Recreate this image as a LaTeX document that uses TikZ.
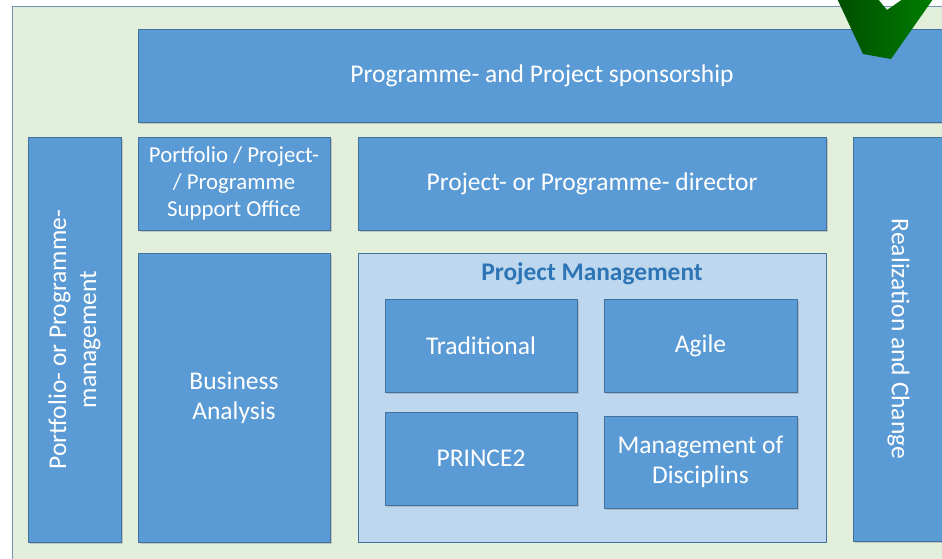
\documentclass[tikz,border=0pt]{standalone}
\usepackage{fontspec}
\setmainfont{Carlito}
\usetikzlibrary{shadows}

\definecolor{boxblue}{HTML}{5B9BD5}
\definecolor{boxline}{HTML}{41719C}
\definecolor{pmfill}{HTML}{BDD7EE}
\definecolor{bggreen}{HTML}{E2EFDA}
\definecolor{bgline}{HTML}{7391B5}
\definecolor{titleblue}{HTML}{2E75B6}

\begin{document}
\begin{tikzpicture}[x=1pt, y=-1pt,
	box/.style={draw=boxline, line width=1pt, fill=boxblue, text=white, align=center,
		font=\fontsize{25.5}{30}\selectfont, inner sep=0pt,
		drop shadow={shadow xshift=2pt, shadow yshift=-2pt, opacity=0.35}},
	pmframe/.style={draw=boxline, line width=1pt, fill=pmfill, inner sep=0pt}]

	\useasboundingbox (0, 0) rectangle (942, 558);
	\clip (0, 0) rectangle (942, 558);

	\fill[white] (0, 0) rectangle (942, 558);
	\filldraw[fill=bggreen, draw=bgline, line width=1pt] (12, 6) rectangle (960, 580);

	% top row
	\node[box, minimum width=808pt, minimum height=93pt] (sponsor) at (542, 75.5) {Programme- and Project sponsorship};

	% outer columns
	\node[box, minimum width=405pt, minimum height=93pt, rotate=90] (portfolio) at (74.5, 339.5) {Portfolio- or Programme-\\management};
	\node[box, minimum width=404pt, minimum height=91pt, rotate=-90] (realization) at (898.5, 339) {Realization and Change};

	% second row
	\node[box, minimum width=192pt, minimum height=93pt, font=\fontsize{22.8}{27}\selectfont] (office) at (234, 183.5) {Portfolio / Project-\\/ Programme\\Support Office};
	\node[box, minimum width=468pt, minimum height=93pt] (director) at (592, 183.5) {Project- or Programme- director};

	% lower part
	\node[box, minimum width=192pt, minimum height=289pt] (analysis) at (234, 397.5) {Business\\Analysis};
	\node[pmframe, minimum width=468pt, minimum height=289pt] (pm) at (592, 397.5) {};
	\node[text=titleblue, font=\fontsize{25.4}{30}\selectfont\bfseries] (pmtitle) at (592, 274) {Project Management};

	\node[box, minimum width=192pt, minimum height=93pt] (traditional) at (481, 345.5) {Traditional};
	\node[box, minimum width=193pt, minimum height=93pt] (agile) at (700.5, 345.5) {Agile};
	\node[box, minimum width=192pt, minimum height=93pt] (prince) at (481, 458.5) {PRINCE2};
	\node[box, minimum width=193pt, minimum height=92pt] (disciplins) at (700.5, 462) {Management of\\Disciplins};

	% check mark
	\shade[left color=green!30!black, right color=green!50!black]
		(834, -8) -- (863, 54) -- (891, 59) -- (938, -8) -- (913, -8) -- (887, 10) -- (872, -8) -- cycle;

\end{tikzpicture}
\end{document}
